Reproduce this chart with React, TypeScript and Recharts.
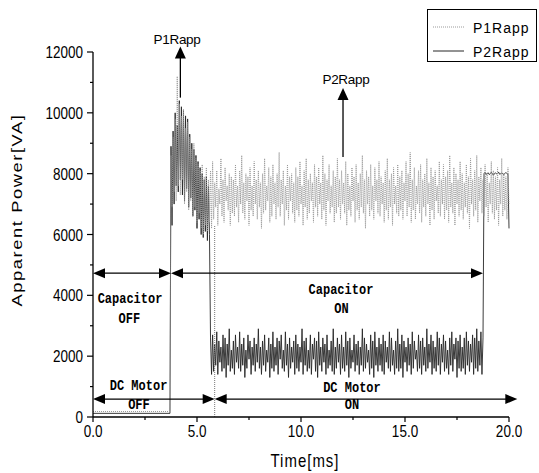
import { LineChart, Line, XAxis, YAxis, ReferenceLine, ReferenceDot, Legend, Label } from "recharts";

// flat part before the capacitor switches (ms)
const preTimes = [0, 3.7];
const p1Pre = [180, 180];
const p2Pre = [120, 120];

// recorded part: one sample every 0.05 ms from 3.75 ms to 20.0 ms (20 samples per row = 1 ms)
const RECORD_START_MS = 3.75;
const STEP_MS = 0.05;

// P1Rapp [VA]
const p1Rec = [
  8600, 6900, 9200, 7400, 9800, 7100, 11200, 7600, 10300, 7300, 9900, 7800, 10100, 7000, 9500, 7400, 9700, 6800, 9200, 7100,
  8800, 6600, 9000, 6900, 8500, 6400, 8300, 6700, 8100, 6200, 8300, 6000, 7900, 6300, 8200, 6100, 7800, 6400, 8100, 6200,
  8400, 6500, 7700, 6900, 8100, 6300, 7500, 7000, 8500, 6600, 7800, 6400, 8200, 7100, 7600, 6800, 8000, 6300, 7900, 6700,
  7800, 6600, 8300, 6900, 7600, 6400, 8100, 7000, 8600, 6700, 7700, 6500, 8000, 7100, 7900, 6300, 8200, 6800, 7600, 6600,
  8400, 7000, 7800, 6500, 8100, 6900, 7700, 6200, 8000, 6700, 8500, 6800, 7600, 7100, 8200, 6400, 7900, 6600, 8300, 7000,
  7700, 6500, 8000, 6900, 8700, 6600, 7800, 7000, 8100, 6300, 7600, 6800, 8300, 6500, 7900, 7100, 8000, 6700, 7700, 6400,
  8200, 6800, 7900, 6600, 8400, 7000, 7600, 6300, 8100, 6900, 8500, 6500, 7800, 6700, 8000, 7100, 7700, 6400, 8300, 6900,
  7900, 6600, 8200, 7000, 7700, 6500, 8600, 6800, 8000, 6300, 7800, 7100, 8300, 6700, 7600, 6900, 8100, 6400, 7900, 6700,
  8500, 6900, 7800, 6500, 8100, 7000, 7700, 6700, 8400, 6300, 8000, 6800, 7600, 6600, 8200, 7100, 7900, 6400, 8300, 6800,
  7700, 6500, 8000, 6900, 8600, 6700, 7800, 6200, 8100, 7000, 7900, 6600, 8300, 6800, 7600, 6500, 8200, 7100, 7800, 6700,
  8400, 6600, 7900, 7000, 7700, 6400, 8100, 6800, 8500, 6500, 7800, 6900, 8000, 6300, 8200, 7000, 7600, 6700, 8300, 6600,
  7900, 6800, 8100, 6500, 7700, 7100, 8400, 6600, 8000, 6900, 8700, 6400, 7800, 6800, 8200, 6500, 7600, 7000, 8100, 6700,
  8300, 6400, 7800, 6900, 8000, 6600, 8500, 7000, 7700, 6300, 8200, 6800, 7900, 6500, 8100, 7100, 7600, 6700, 8400, 6600,
  7800, 7000, 8300, 6500, 7900, 6800, 8100, 6400, 8600, 6900, 7700, 6700, 8200, 6300, 8000, 7000, 7800, 6600, 8400, 6800,
  8000, 6500, 7700, 6900, 8300, 6700, 7900, 6200, 8500, 7000, 7800, 6600, 8100, 6800, 8600, 6400, 7900, 7100, 8200, 6700,
  7800, 6600, 8300, 6900, 8000, 6400, 7700, 7000, 8400, 6700, 8100, 6500, 7900, 6800, 8200, 6300, 7800, 7000, 8500, 6600,
  8000, 6800, 7900, 6500, 8200, 7000,
];

// P2Rapp [VA]
const p2Rec = [
  8900, 6300, 9400, 7000, 10000, 7600, 9600, 7400, 10400, 7800, 10200, 7300, 10100, 7100, 9900, 7500, 9800, 6900, 9300, 7200,
  9000, 6600, 8800, 6800, 8600, 6200, 8400, 6500, 8200, 6000, 8000, 5900, 7800, 6100, 7900, 5800, 7600, 6000, 2600, 1400,
  2700, 1500, 2400, 1700, 2800, 1400, 2500, 1800, 2300, 1500, 2700, 1600, 2600, 1300, 2400, 1700, 2900, 1500, 2200, 1600,
  2500, 1400, 2700, 1800, 2300, 1600, 2800, 1500, 2400, 1700, 2600, 1300, 2200, 1600, 2700, 1900, 2500, 1400, 2300, 1700,
  2600, 1500, 2400, 1800, 2900, 1600, 2300, 1400, 2500, 1700, 2700, 1500, 2200, 1800, 2600, 1300, 2400, 1600, 2800, 1500,
  2300, 1700, 2600, 1400, 2500, 1900, 2700, 1600, 2200, 1500, 2800, 1700, 2400, 1300, 2600, 1600, 2300, 1800, 2500, 1400,
  2700, 1600, 2400, 1500, 2300, 1800, 2900, 1400, 2500, 1700, 2600, 1500, 2200, 1600, 2700, 1400, 2400, 1900, 2600, 1500,
  2500, 1300, 2800, 1700, 2300, 1500, 2600, 1800, 2400, 1400, 2700, 1600, 2200, 1700, 2500, 1500, 2900, 1400, 2300, 1600,
  2600, 1800, 2400, 1400, 2700, 1600, 2300, 1500, 2800, 1700, 2500, 1300, 2600, 1600, 2200, 1800, 2700, 1500, 2400, 1700,
  2500, 1400, 2300, 1700, 2900, 1500, 2600, 1600, 2400, 1800, 2200, 1400, 2700, 1600, 2500, 1300, 2800, 1700, 2300, 1500,
  2600, 1700, 2400, 1500, 2700, 1400, 2500, 1800, 2300, 1600, 2800, 1500, 2600, 1700, 2200, 1400, 2500, 1600, 2900, 1500,
  2400, 1600, 2700, 1300, 2500, 1800, 2300, 1500, 2600, 1700, 2400, 1400, 2800, 1600, 2500, 1900, 2200, 1500, 2700, 1600,
  2500, 1400, 2600, 1700, 2300, 1500, 2900, 1600, 2400, 1800, 2700, 1400, 2500, 1600, 2300, 1500, 2800, 1700, 2600, 1400,
  2400, 1800, 2700, 1500, 2500, 1600, 2200, 1400, 2600, 1700, 2800, 1500, 2400, 1900, 2600, 1300, 2500, 1600, 2700, 1500,
  2300, 1600, 2600, 1400, 2800, 1700, 2500, 1500, 2400, 1800, 2700, 1400, 2600, 1600, 2900, 1500, 2500, 1700, 2800, 1400,
  2600, 8000, 8050, 7980, 8000, 8030, 7970, 8000, 8050, 8000, 7950, 8000, 8030, 7990, 8000, 8050, 7980, 8000, 8020, 8000,
  7970, 8000, 8040, 8000, 7990, 6200,
];

const xTicks = [0, 2.5, 5, 7.5, 10, 12.5, 15, 17.5, 20];
const xMajor = [0, 5, 10, 15, 20];
const yTicks = [0, 1000, 2000, 3000, 4000, 5000, 6000, 7000, 8000, 9000, 10000, 11000, 12000];
const yMajor = [0, 2000, 4000, 6000, 8000, 10000, 12000];

// double arrows: capacitor / dc motor state spans
const spans = [
  { from: 0, to: 3.75, level: 4730 },
  { from: 3.75, to: 18.75, level: 4730 },
  { from: 0, to: 5.85, level: 590 },
  { from: 5.85, to: 20.4, level: 590 },
];

// pointer arrows to the curves
const pointers = [
  { t: 4.2, from: 10500, to: 12180 },
  { t: 12.02, from: 8550, to: 10820 },
];

const stateNotes = [
  { t: 1.78, v: 3880, text: "Capacitor" },
  { t: 1.75, v: 3220, text: "OFF" },
  { t: 2.19, v: 1000, text: "DC Motor" },
  { t: 2.21, v: 395, text: "OFF" },
  { t: 11.92, v: 4180, text: "Capacitor" },
  { t: 11.95, v: 3540, text: "ON" },
  { t: 12.45, v: 945, text: "DC Motor" },
  { t: 12.45, v: 395, text: "ON" },
];

const curveNotes = [
  { t: 4.04, v: 12400, text: "P1Rapp" },
  { t: 12.16, v: 11080, text: "P2Rapp" },
];

const series = [
  { key: "p2", name: "P2Rapp", color: "#262626", dash: undefined, width: 0.9 },
  { key: "p1", name: "P1Rapp", color: "#9a9a9a", dash: "1 1", width: 1 },
];

const data = [
  ...preTimes.map((t, i) => ({ t, p1: p1Pre[i], p2: p2Pre[i] })),
  ...p1Rec.map((v, i) => ({
    t: Math.round((RECORD_START_MS + i * STEP_MS) * 100) / 100,
    p1: v,
    p2: p2Rec[i],
  })),
];

const SANS = "Liberation Sans, Arial, sans-serif";
const MONO = "Liberation Mono, DejaVu Sans Mono, monospace";
const STRETCH = 1.22;

type TxtProps = {
  x: number;
  y: number;
  children: string;
  size?: number;
  family?: string;
  weight?: number;
  anchor?: "start" | "middle" | "end";
  spacing?: number;
  sy?: number;
  rotate?: boolean;
};

const Txt = (props: TxtProps) => {
  const { x, y, children, size = 13.5, family = SANS, weight = 400, anchor = "middle", spacing = 0, sy = STRETCH, rotate } = props;
  const transform = rotate
    ? `translate(${x},${y}) rotate(-90) scale(${sy},1)`
    : `translate(${x},${y}) scale(1,${sy})`;
  return (
    <text
      transform={transform}
      textAnchor={anchor}
      dominantBaseline="central"
      fontSize={size}
      fontFamily={family}
      fontWeight={weight}
      letterSpacing={spacing}
      fill="#000"
    >
      {children}
    </text>
  );
};

const XTick = (props: any) => {
  const { x, y, payload } = props;
  const major = xMajor.includes(payload.value);
  return (
    <g>
      <line x1={x} y1={y} x2={x} y2={y + (major ? 5 : 3)} stroke="#000" strokeWidth={1.2} />
      {major && <Txt x={x} y={y + 14}>{payload.value.toFixed(1)}</Txt>}
    </g>
  );
};

const YTick = (props: any) => {
  const { x, y, payload } = props;
  const major = yMajor.includes(payload.value);
  return (
    <g>
      <line x1={x - (major ? 6 : 3)} y1={y} x2={x} y2={y} stroke="#000" strokeWidth={1.2} />
      {major && (
        <Txt x={x - 10} y={y} anchor="end">
          {String(payload.value)}
        </Txt>
      )}
    </g>
  );
};

const DoubleArrow = (p: any) => {
  const { x1, x2, y1 } = p;
  const left = Math.min(x1, x2);
  const right = Math.max(x1, x2);
  return (
    <g>
      <line x1={left + 10} y1={y1} x2={right - 10} y2={y1} stroke="#000" strokeWidth={1.3} />
      <polygon points={`${left},${y1} ${left + 12},${y1 - 5} ${left + 12},${y1 + 5}`} fill="#000" />
      <polygon points={`${right},${y1} ${right - 12},${y1 - 5} ${right - 12},${y1 + 5}`} fill="#000" />
    </g>
  );
};

const UpArrow = (p: any) => {
  const { x1, y1, y2 } = p;
  const top = Math.min(y1, y2);
  const bottom = Math.max(y1, y2);
  return (
    <g>
      <line x1={x1} y1={bottom} x2={x1} y2={top + 10} stroke="#000" strokeWidth={1.3} />
      <polygon points={`${x1},${top} ${x1 - 5.5},${top + 12} ${x1 + 5.5},${top + 12}`} fill="#000" />
    </g>
  );
};

const LegendBox = () => (
  <div
    style={{
      border: "1px solid #000",
      width: 110,
      height: 53,
      boxSizing: "border-box",
      padding: "5px 0 0 5px",
      background: "#fff",
    }}
  >
    {[series[1], series[0]].map((s) => (
      <div key={s.key} style={{ display: "flex", alignItems: "center", height: 24 }}>
        <svg width={31} height={4}>
          <line x1={0} y1={2} x2={31} y2={2} stroke={s.color} strokeWidth={1} strokeDasharray={s.dash} />
        </svg>
        <span
          style={{
            marginLeft: 9,
            fontFamily: SANS,
            fontSize: 14,
            letterSpacing: 1,
            display: "inline-block",
            transform: "scaleY(1.1)",
            color: "#000",
          }}
        >
          {s.name}
        </span>
      </div>
    ))}
  </div>
);

export default function App() {
  return (
    <div style={{ position: "absolute", left: 0, top: 0, width: 539, height: 473, background: "#fff" }}>
      <LineChart width={539} height={473} data={data} margin={{ top: 52, right: 30, bottom: 26, left: 33 }}>
        <XAxis
          dataKey="t"
          type="number"
          domain={[0, 20]}
          ticks={xTicks}
          interval={0}
          height={30}
          tickSize={0}
          tickMargin={0}
          tickLine={false}
          tick={<XTick />}
          axisLine={{ stroke: "#000", strokeWidth: 1.3 }}
        >
          <Label
            content={() => (
              <Txt x={305} y={461} size={15} spacing={1} sy={1.2}>
                Time[ms]
              </Txt>
            )}
          />
        </XAxis>
        <YAxis
          type="number"
          domain={[0, 12000]}
          ticks={yTicks}
          interval={0}
          width={60}
          tickSize={0}
          tickMargin={0}
          tickLine={false}
          tick={<YTick />}
          axisLine={{ stroke: "#000", strokeWidth: 1.3 }}
        >
          <Label
            content={() => (
              <Txt x={17} y={210} size={15} spacing={1.3} rotate>
                Apparent Power[VA]
              </Txt>
            )}
          />
        </YAxis>
        <Legend
          content={LegendBox}
          layout="vertical"
          align="center"
          verticalAlign="middle"
          wrapperStyle={{ left: 427, top: 9, width: 110 }}
        />
        {series.map((s) => (
          <Line
            key={s.key}
            dataKey={s.key}
            name={s.name}
            type="linear"
            stroke={s.color}
            strokeWidth={s.width}
            strokeDasharray={s.dash}
            dot={false}
            isAnimationActive={false}
          />
        ))}
        <ReferenceLine
          segment={[{ x: 5.85, y: 0 }, { x: 5.85, y: 6300 }]}
          stroke="#777"
          strokeDasharray="1 1"
          ifOverflow="visible"
        />
        {spans.map((s, i) => (
          <ReferenceLine
            key={`span-${i}`}
            segment={[{ x: s.from, y: s.level }, { x: s.to, y: s.level }]}
            ifOverflow="visible"
            shape={DoubleArrow}
          />
        ))}
        {pointers.map((p, i) => (
          <ReferenceLine
            key={`ptr-${i}`}
            segment={[{ x: p.t, y: p.from }, { x: p.t, y: p.to }]}
            ifOverflow="visible"
            shape={UpArrow}
          />
        ))}
        {stateNotes.map((n, i) => (
          <ReferenceDot
            key={`state-${i}`}
            x={n.t}
            y={n.v}
            ifOverflow="visible"
            shape={(p: any) => (
              <Txt x={p.cx} y={p.cy} size={12} family={MONO} weight={700} sy={1.2}>
                {n.text}
              </Txt>
            )}
          />
        ))}
        {curveNotes.map((n, i) => (
          <ReferenceDot
            key={`curve-${i}`}
            x={n.t}
            y={n.v}
            ifOverflow="visible"
            shape={(p: any) => (
              <Txt x={p.cx} y={p.cy} size={13.5} spacing={-0.3} sy={1}>
                {n.text}
              </Txt>
            )}
          />
        ))}
      </LineChart>
    </div>
  );
}
